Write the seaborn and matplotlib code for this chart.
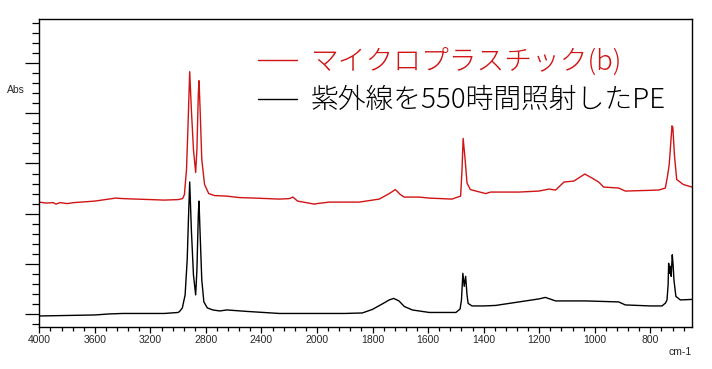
import numpy as np
import pandas as pd
import matplotlib
matplotlib.use("Agg")
import matplotlib.pyplot as plt
import seaborn as sns

# ============================
# Data
# ============================
# black: PE after 550 h of UV
wn_pe = [4000, 3800, 3600, 3500, 3400, 3200, 3100, 3000, 2990, 2970, 2950, 2935,
         2925, 2917, 2905, 2890, 2874, 2865, 2855, 2850, 2843, 2830, 2815, 2790,
         2750, 2700, 2650, 2500, 2271, 2100, 1900, 1837, 1801, 1765, 1740, 1724,
         1705, 1686, 1657, 1596, 1500, 1485, 1480, 1475, 1470, 1465, 1460, 1456,
         1442, 1400, 1357, 1273, 1201, 1178, 1141, 1033, 914, 890, 800, 758, 745,
         740, 736, 734, 731, 727, 725, 721, 718, 715, 708, 692, 650]
abs_pe = [-0.004, -0.003, -0.002, 0.000, 0.001, 0.001, 0.001, 0.003, 0.005, 0.012,
          0.038, 0.108, 0.198, 0.263, 0.168, 0.078, 0.038, 0.088, 0.198, 0.225,
          0.168, 0.068, 0.024, 0.012, 0.008, 0.006, 0.008, 0.005, 0.001, 0.001,
          0.001, 0.002, 0.009, 0.020, 0.028, 0.031, 0.026, 0.015, 0.008, 0.003,
          0.003, 0.010, 0.028, 0.081, 0.055, 0.075, 0.038, 0.021, 0.016, 0.016,
          0.017, 0.024, 0.030, 0.033, 0.026, 0.026, 0.024, 0.018, 0.016, 0.016,
          0.022, 0.028, 0.058, 0.101, 0.081, 0.095, 0.075, 0.118, 0.098, 0.068,
          0.035, 0.028, 0.029]

# red: microplastic (b)
wn_mp = [4000, 3950, 3900, 3880, 3850, 3800, 3750, 3700, 3650, 3600, 3500, 3450,
         3400, 3300, 3200, 3100, 3000, 2968, 2955, 2940, 2930, 2917, 2905, 2890,
         2874, 2865, 2855, 2850, 2842, 2830, 2810, 2780, 2738, 2654, 2558, 2450,
         2271, 2200, 2174, 2140, 2100, 2019, 2000, 1956, 1848, 1776, 1740, 1718,
         1700, 1686, 1632, 1596, 1514, 1483, 1478, 1474, 1468, 1460, 1448, 1393,
         1375, 1321, 1273, 1201, 1165, 1141, 1111, 1075, 1036, 1010, 986, 968,
         914, 890, 770, 746, 738, 732, 722, 719, 713, 705, 681, 650]
abs_mp = [0.223, 0.221, 0.222, 0.219, 0.222, 0.220, 0.222, 0.223, 0.224, 0.225,
          0.229, 0.231, 0.230, 0.229, 0.228, 0.227, 0.228, 0.230, 0.238, 0.288,
          0.368, 0.483, 0.408, 0.328, 0.282, 0.328, 0.438, 0.465, 0.408, 0.308,
          0.258, 0.240, 0.236, 0.235, 0.232, 0.231, 0.229, 0.230, 0.233, 0.225,
          0.223, 0.219, 0.220, 0.223, 0.223, 0.229, 0.240, 0.248, 0.238, 0.233,
          0.233, 0.231, 0.229, 0.235, 0.288, 0.350, 0.315, 0.261, 0.248, 0.240,
          0.243, 0.243, 0.243, 0.245, 0.249, 0.247, 0.263, 0.265, 0.279, 0.271,
          0.263, 0.253, 0.251, 0.245, 0.247, 0.251, 0.275, 0.298, 0.375, 0.372,
          0.315, 0.268, 0.258, 0.253]

labels = ["マイクロプラスチック(b)", "紫外線を550時間照射したPE"]
colors = ["#d01414", "#000000"]

xmajor = [4000, 3600, 3200, 2800, 2400, 2000, 1800, 1600, 1400, 1200, 1000, 800]
ymajor = [0.0, 0.1, 0.2, 0.3, 0.4, 0.5]

df_mp = pd.DataFrame({"wn": wn_mp, "abs": abs_mp})
df_pe = pd.DataFrame({"wn": wn_pe, "abs": abs_pe})

# ============================
# Plot
# ============================
sns.set_style("white")
plt.rcParams["font.family"] = ["Liberation Sans", "DejaVu Sans"]

fig = plt.figure(figsize=(7.12, 3.69), dpi=100)
ax = fig.add_axes([0.0552, 0.1138, 0.9167, 0.8347])

# IR style x axis: scale doubles below 2000 cm-1
def fwd(x):
    x = np.asarray(x, dtype=float)
    return np.where(x <= 2000, x, 2000 + (x - 2000) / 2)

def inv(x):
    x = np.asarray(x, dtype=float)
    return np.where(x <= 2000, x, 2000 + (x - 2000) * 2)

ax.set_xscale("function", functions=(fwd, inv))

sns.lineplot(data=df_mp, x="wn", y="abs", color=colors[0], lw=1.0, ax=ax, label=labels[0])
sns.lineplot(data=df_pe, x="wn", y="abs", color=colors[1], lw=1.0, ax=ax, label=labels[1])

ax.set_xlim(4000, 650)
ax.set_ylim(-0.026, 0.588)

xminor = list(np.arange(4000, 2000, -80)) + list(np.arange(2000, 640, -40))
yminor = np.arange(-0.02, 0.59, 0.02)
ax.set_xticks(xmajor)
ax.set_xticklabels([str(v) for v in xmajor])
ax.set_xticks(xminor, minor=True)
ax.set_yticks(ymajor)
ax.set_yticklabels([])
ax.set_yticks(yminor, minor=True)

ax.tick_params(axis="x", which="both", bottom=True, top=False)
ax.tick_params(axis="y", which="both", left=True, right=False)
ax.tick_params(axis="x", which="major", direction="out", length=4, width=0.9,
               labelsize=7.5, pad=2, color="black")
ax.tick_params(axis="x", which="minor", direction="out", length=3, width=0.9, color="black")
ax.tick_params(axis="y", which="major", direction="out", length=10, width=0.9, color="black")
ax.tick_params(axis="y", which="minor", direction="out", length=5, width=0.9, color="black")

for s in ax.spines.values():
    s.set_linewidth(1.0)
    s.set_color("black")

ax.set_xlabel("")
ax.set_ylabel("")
fig.text(7 / 712, 1 - 90 / 369, "Abs", fontsize=7.5, va="center", ha="left")
fig.text(692 / 712, 1 - 352 / 369, "cm-1", fontsize=7.5, va="center", ha="right")

leg = ax.legend(loc="upper left", bbox_to_anchor=(258 / 712, 1 - 47 / 369),
                bbox_transform=fig.transFigure, frameon=False,
                prop={"family": ["Noto Sans CJK JP", "DejaVu Sans"], "size": 20,
                      "weight": "light"},
                handlelength=1.4, handletextpad=0.5, labelspacing=0.4,
                borderpad=0, borderaxespad=0)
for t, c in zip(leg.get_texts(), colors):
    t.set_color(c)
for h in leg.get_lines():
    h.set_linewidth(1.0)

fig.savefig("out.png", dpi=100)
